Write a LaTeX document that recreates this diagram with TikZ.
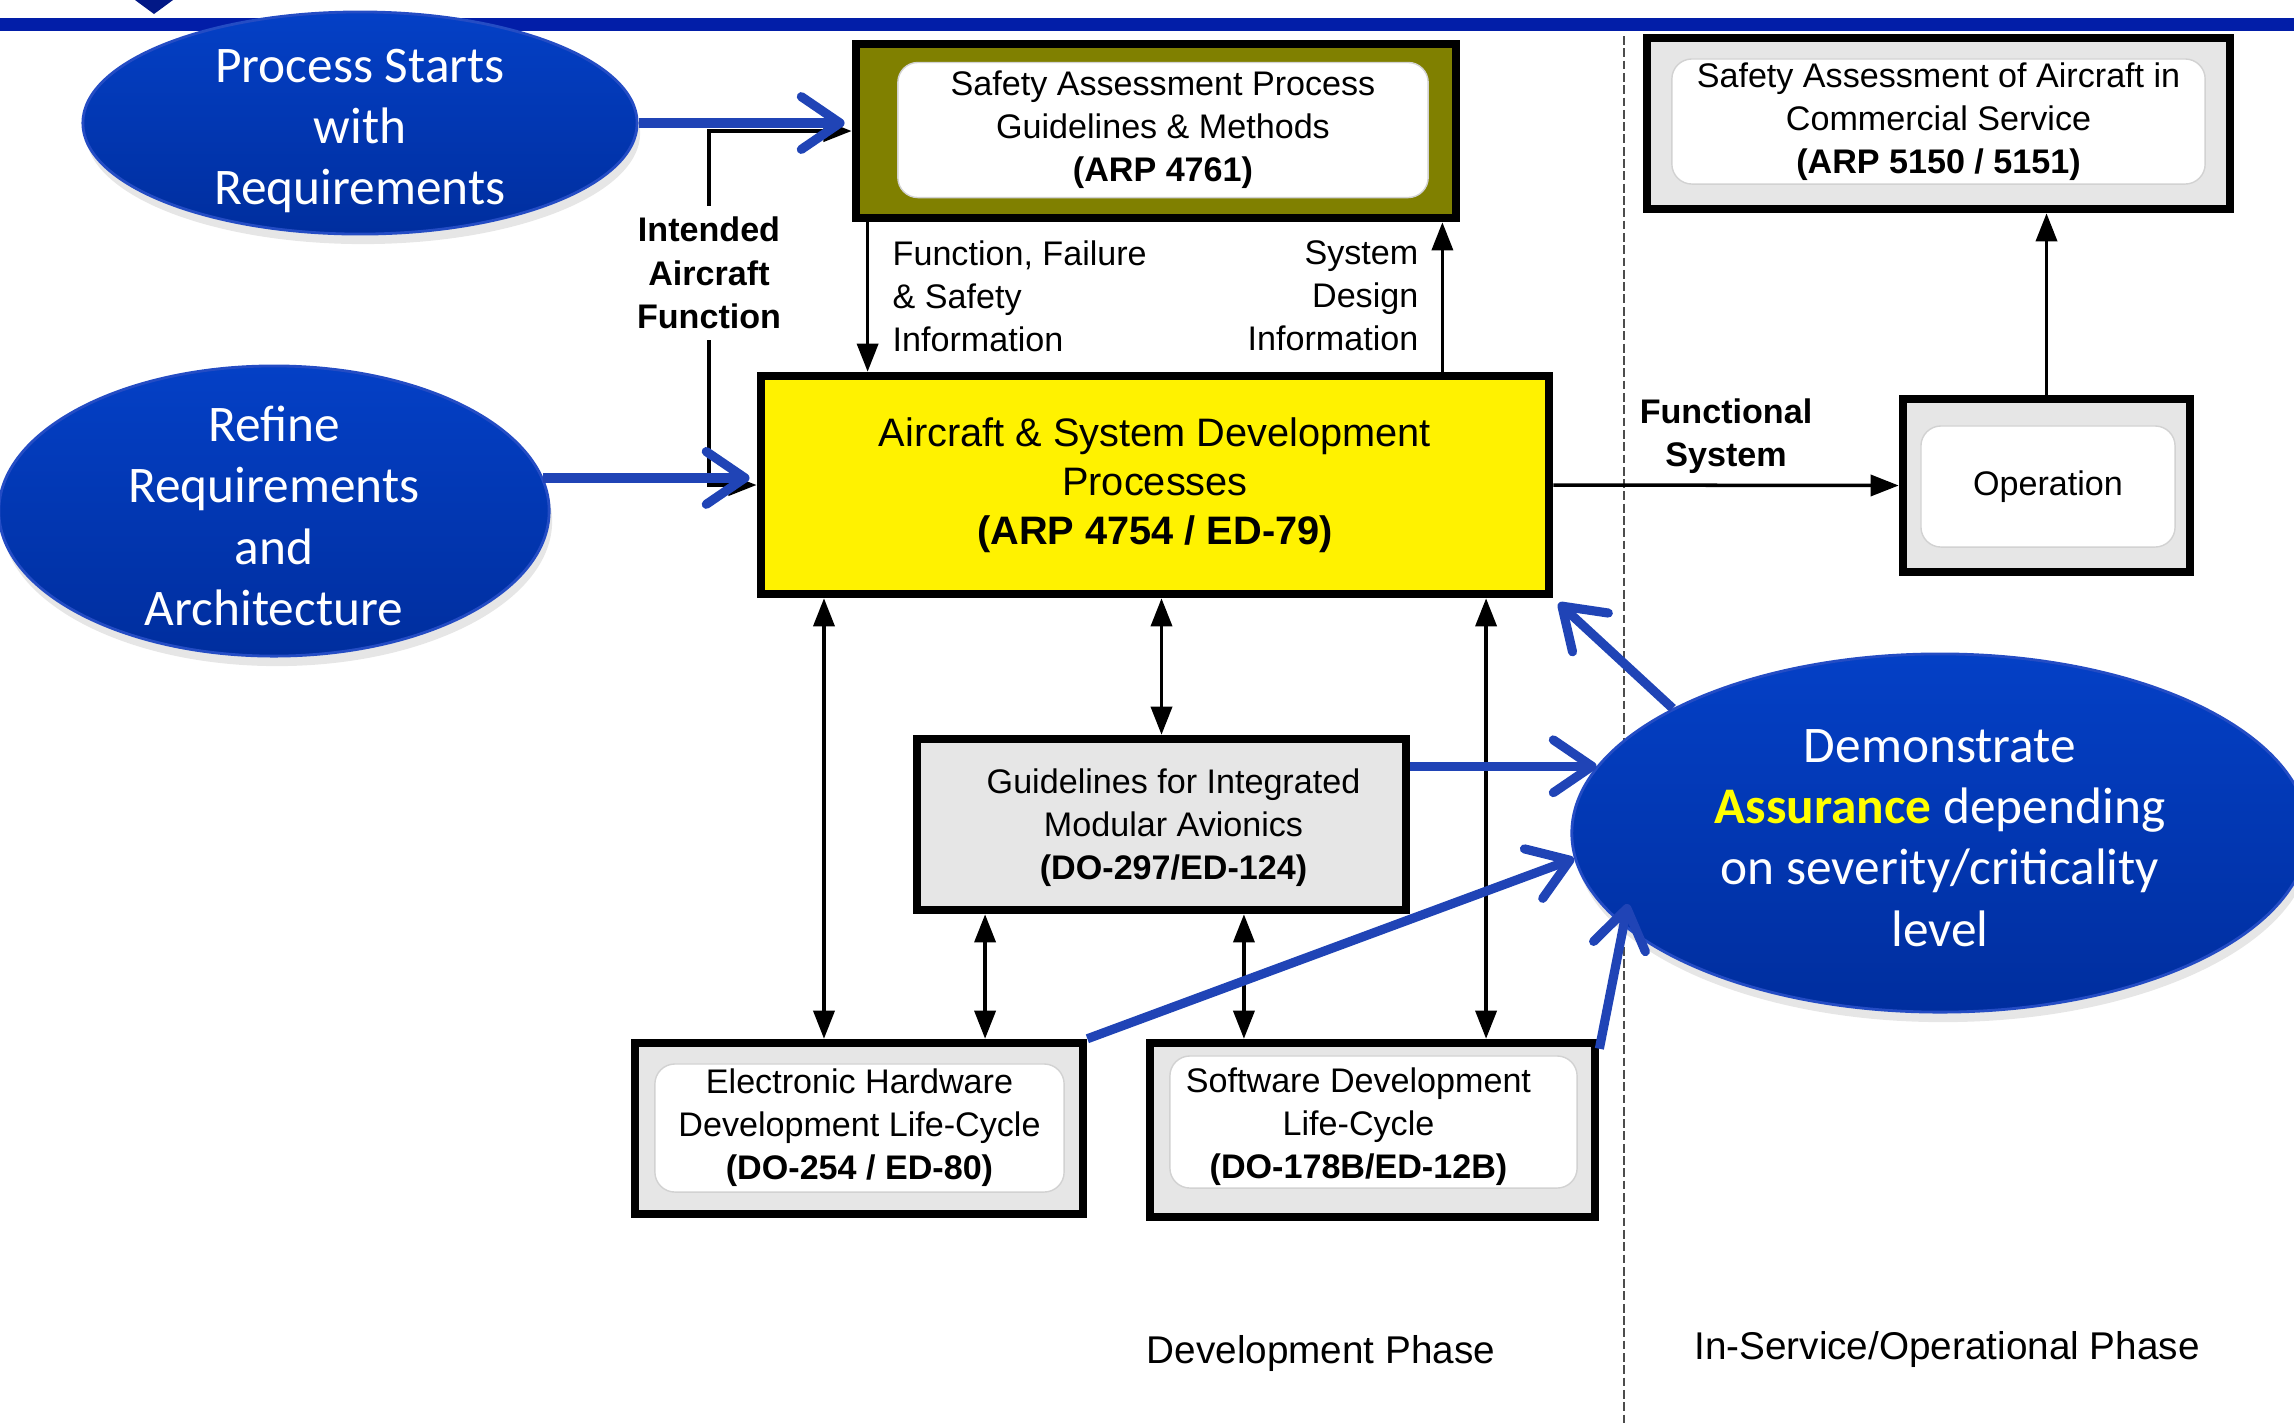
\documentclass[tikz,border=0pt]{standalone}
\usepackage{fontspec}
\setmainfont{Liberation Sans}
\newfontfamily\calibri{Carlito}
\usetikzlibrary{shapes.geometric,arrows.meta,shadows,calc}
\definecolor{barblue}{RGB}{2,30,168}
\definecolor{bubbletop}{RGB}{4,64,198}
\definecolor{bubblebot}{RGB}{0,46,158}
\definecolor{bubbleedge}{RGB}{36,76,196}
\definecolor{arrowblue}{RGB}{32,68,182}
\definecolor{olivebox}{RGB}{128,128,0}
\definecolor{boxgray}{RGB}{230,230,230}
\definecolor{assureyellow}{RGB}{255,255,0}

\begin{document}
\begin{tikzpicture}[x=0.01cm,y=-0.01cm,
  outerbox/.style={draw=black,line width=2.4pt,fill=boxgray,inner sep=0pt},
  innerbox/.style={draw=gray!35,line width=0.4pt,fill=white,rounded corners=0.2cm,inner sep=0pt,align=center,font=\fontsize{9.7}{12.2}\selectfont},
  plaintxt/.style={align=center,inner sep=0pt,font=\fontsize{9.7}{12.2}\selectfont},
  boldtxt/.style={plaintxt,font=\bfseries\fontsize{9.7}{12.4}\selectfont},
  bubble/.style={ellipse,draw=bubbleedge,line width=0.8pt,top color=bubbletop,bottom color=bubblebot,inner sep=0pt,
    drop shadow={shadow xshift=0.03cm,shadow yshift=-0.1cm,opacity=0.2}},
  bubbletxt/.style={text=white,align=center,inner sep=0pt,font=\calibri\fontsize{14.6}{17.4}\selectfont},
  arr/.style={line width=1pt,-{Triangle[length=8pt,width=6pt]}},
  dblarr/.style={line width=1pt,{Triangle[length=8pt,width=6pt]}-{Triangle[length=8pt,width=6pt]}},
  bluearr/.style={draw=arrowblue,line width=2.6pt,-{Straight Barb[length=11pt,width=15pt,round]}}]
\useasboundingbox (0,0) rectangle (2294,1423);
\fill[barblue] (0,18) rectangle (2294,31);
\fill[barblue!80!black] (135,0) -- (173,0) -- (154,14) -- cycle;
\draw[black!70,line width=0.5pt,dash pattern=on 2.5pt off 1pt] (1624,36) -- (1624,1423);

\node[outerbox,fill=olivebox,minimum width=6cm,minimum height=1.74cm] (sap) at (1156,131) {};
\node[innerbox,minimum width=5.3cm,minimum height=1.35cm] (sapin) at (1163,130) {Safety Assessment Process\\Guidelines \& Methods\\\textbf{(ARP 4761)}};
\node[outerbox,fill=yellow,minimum width=7.88cm,minimum height=2.18cm,align=center,font=\fontsize{11.3}{14}\selectfont] (asdp) at (1155,485) {Aircraft \& System Development\\Processes\\\textbf{(ARP 4754 / ED-79)}};
\node[outerbox,minimum width=4.89cm,minimum height=1.71cm] (gima) at (1161.5,824.5) {};
\node[plaintxt] (gimatxt) at ([xshift=0.12cm,yshift=-0.03cm]gima) {Guidelines for Integrated\\Modular Avionics\\\textbf{(DO-297/ED-124)}};
\node[outerbox,minimum width=4.48cm,minimum height=1.71cm] (ehdl) at (859,1128.5) {};
\node[innerbox,minimum width=4.09cm,minimum height=1.28cm] (ehdlin) at (859.5,1128) {Electronic Hardware\\Development Life-Cycle\\\textbf{(DO-254 / ED-80)}};
\node[outerbox,minimum width=4.45cm,minimum height=1.74cm] (sdl) at (1372.5,1130) {};
\node[innerbox,minimum width=4.07cm,minimum height=1.32cm] (sdlin) at (1373.5,1122) {};
\node[plaintxt] (sdltxt) at ([xshift=-0.15cm,yshift=-0.05cm]sdlin) {Software Development\\Life-Cycle\\\textbf{(DO-178B/ED-12B)}};
\node[outerbox,minimum width=5.83cm,minimum height=1.71cm] (saac) at (1938.5,123.5) {};
\node[innerbox,minimum width=5.33cm,minimum height=1.25cm] (saacin) at (1938.5,121.5) {Safety Assessment of Aircraft in\\Commercial Service\\\textbf{(ARP 5150 / 5151)}};
\node[outerbox,minimum width=2.87cm,minimum height=1.73cm] (oper) at (2046.5,485.5) {};
\node[innerbox,minimum width=2.54cm,minimum height=1.21cm] (operin) at (2048,486.5) {Operation};

\node[boldtxt] (intended) at (709,273) {Intended\\Aircraft\\Function};
\node[plaintxt,align=left,anchor=west] (ffsinfo) at (892,296) {Function, Failure\\\& Safety\\Information};
\node[plaintxt,align=right,anchor=east] (sdinfo) at (1419,296) {System\\Design\\Information};
\node[boldtxt] (funcsys) at (1726,436) {Functional\\System};
\node[font=\fontsize{11}{13}\selectfont] (devphase) at (1321,1353) {Development Phase};
\node[font=\fontsize{11}{13}\selectfont] (opphase) at (1947,1349) {In-Service/Operational Phase};

\draw[arr,shorten <=3pt] (intended.north) |- (sap.west);
\draw[arr,shorten <=3pt] (intended.south) |- (asdp.west);
\draw[arr] ([xshift=0.16cm]sap.south west) -- ([xshift=0.16cm]sap.south west |- asdp.north);
\draw[arr] ([xshift=-0.18cm]sap.south east |- asdp.north) -- ([xshift=-0.18cm]sap.south east);
\draw[dblarr] ([xshift=-0.35cm]ehdl.north) -- ([xshift=-0.35cm]ehdl.north |- asdp.south);
\draw[dblarr] ([xshift=1.26cm]ehdl.north) -- ([xshift=1.26cm]ehdl.north |- gima.south);
\draw[dblarr] (gima.north) -- (gima.north |- asdp.south);
\draw[dblarr] ([xshift=-1.285cm]sdl.north) -- ([xshift=-1.285cm]sdl.north |- gima.south);
\draw[dblarr] ([xshift=1.135cm]sdl.north) -- ([xshift=1.135cm]sdl.north |- asdp.south);
\draw[arr] (asdp.east) -- (oper.west);
\draw[arr] (oper.north) -- (oper.north |- saac.south);

\node[bubble,minimum width=5.54cm,minimum height=2.22cm] (procstart) at (360,123) {};
\node[bubbletxt] (procstarttxt) at ([yshift=-0.08cm]procstart) {Process Starts\\with\\Requirements};
\node[bubble,minimum width=5.5cm,minimum height=2.9cm] (refine) at (274,511) {};
\node[bubbletxt] (refinetxt) at ([yshift=-0.05cm]refine) {Refine\\Requirements\\and\\Architecture};
\node[bubble,minimum width=7.36cm,minimum height=3.58cm] (assure) at (1940,833) {};
\node[bubbletxt] (assuretxt) at ([yshift=-0.05cm]assure) {Demonstrate\\{\color{assureyellow}\bfseries Assurance} depending\\on severity/criticality\\level};

\draw[bluearr,shorten >=2pt] (procstart.east) -- (procstart.east -| sap.west);
\draw[bluearr,shorten >=2pt] (refine.7) -- (refine.7 -| asdp.west);
\draw[bluearr] (assure.169 -| gima.east) -- (assure.169);
\draw[bluearr] (ehdl.north east) -- (assure.184);
\draw[bluearr] ([yshift=-0.1cm]sdl.north east) -- ($(assure)+(-3.12cm,-0.71cm)$);
\draw[bluearr,shorten >=2pt] (assure.155) -- (asdp.south east);
\end{tikzpicture}
\end{document}
